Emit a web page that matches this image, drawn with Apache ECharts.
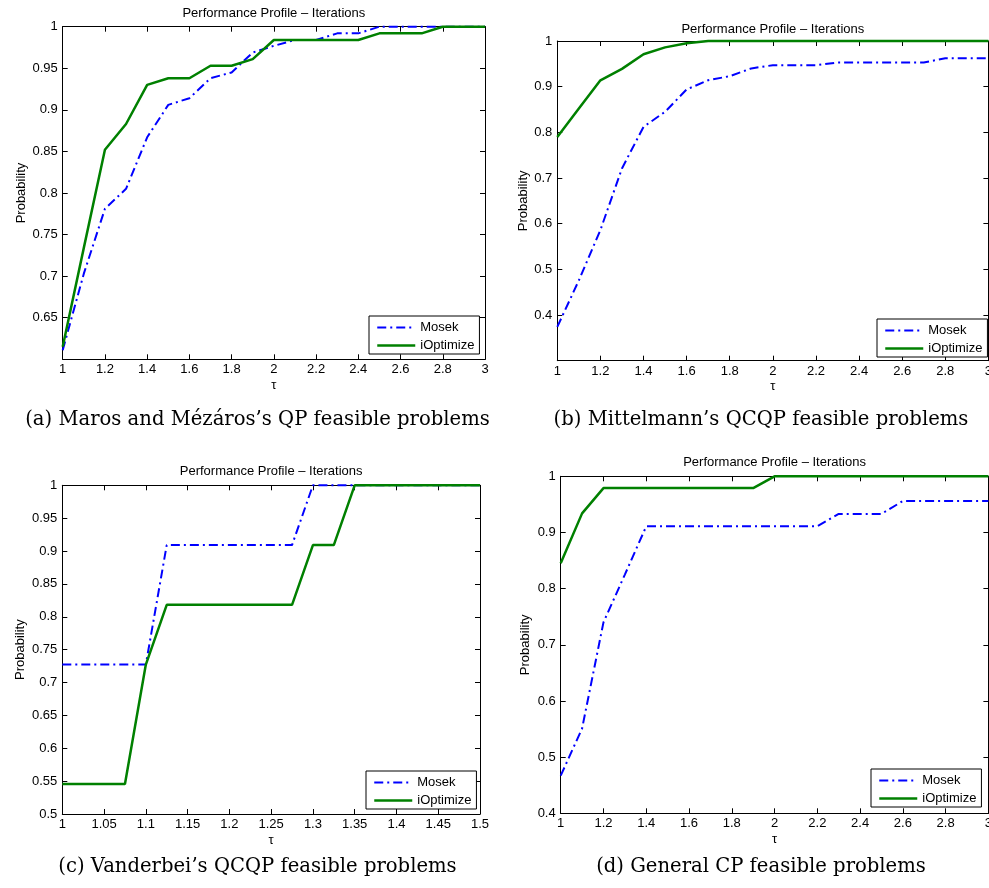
<!DOCTYPE html>
<html>
<head>
<meta charset="utf-8">
<script src="https://cdn.jsdelivr.net/npm/echarts@6/dist/echarts.min.js"></script>
<style>html,body{margin:0;padding:0;background:#fff}#c{width:989px;height:888px}</style>
</head>
<body>
<div id="c"></div>
<script>
// ---------- data ----------
const seriesNames = ['Mosek', 'iOptimize'];
const chartTitle = 'Performance Profile \u2013 Iterations';
const captions = [
  '(a) Maros and M\u00e9z\u00e1ros\u2019s QP feasible problems',
  '(b) Mittelmann\u2019s QCQP feasible problems',
  '(c) Vanderbei\u2019s QCQP feasible problems',
  '(d) General CP feasible problems'
];

// (a)
const tauA = [1, 1.1, 1.2, 1.3, 1.4, 1.5, 1.6, 1.7, 1.8, 1.9, 2, 2.1, 2.2, 2.3, 2.4, 2.5, 2.6, 2.7, 2.8, 2.9, 3];
const mosekA = [0.611, 0.703, 0.781, 0.805, 0.867, 0.906, 0.914, 0.938, 0.945, 0.969, 0.977, 0.984, 0.984, 0.992, 0.992, 1, 1, 1, 1, 1, 1];
const ioptA  = [0.615, 0.734, 0.852, 0.883, 0.930, 0.938, 0.938, 0.953, 0.953, 0.961, 0.984, 0.984, 0.984, 0.984, 0.984, 0.992, 0.992, 0.992, 1, 1, 1];

// (b)
const tauB = [1, 1.1, 1.2, 1.3, 1.4, 1.5, 1.6, 1.7, 1.8, 1.9, 2, 2.1, 2.2, 2.3, 2.4, 2.5, 2.6, 2.7, 2.8, 2.9, 3];
const mosekB = [0.374, 0.476, 0.586, 0.721, 0.812, 0.845, 0.894, 0.914, 0.923, 0.940, 0.947, 0.947, 0.947, 0.953, 0.953, 0.953, 0.953, 0.953, 0.962, 0.962, 0.962];
const ioptB  = [0.790, 0.852, 0.914, 0.939, 0.971, 0.986, 0.995, 1, 1, 1, 1, 1, 1, 1, 1, 1, 1, 1, 1, 1, 1];

// (c)
const tauC = [1, 1.025, 1.05, 1.075, 1.1, 1.125, 1.15, 1.175, 1.2, 1.225, 1.25, 1.275, 1.3, 1.325, 1.35, 1.375, 1.4, 1.425, 1.45, 1.475, 1.5];
const mosekC = [0.7273, 0.7273, 0.7273, 0.7273, 0.7273, 0.9091, 0.9091, 0.9091, 0.9091, 0.9091, 0.9091, 0.9091, 1, 1, 1, 1, 1, 1, 1, 1, 1];
const ioptC  = [0.5455, 0.5455, 0.5455, 0.5455, 0.7273, 0.8182, 0.8182, 0.8182, 0.8182, 0.8182, 0.8182, 0.8182, 0.9091, 0.9091, 1, 1, 1, 1, 1, 1, 1];

// (d)
const tauD = [1, 1.1, 1.2, 1.3, 1.4, 1.5, 1.6, 1.7, 1.8, 1.9, 2, 2.1, 2.2, 2.3, 2.4, 2.5, 2.6, 2.7, 2.8, 2.9, 3];
const mosekD = [0.467, 0.551, 0.740, 0.825, 0.911, 0.911, 0.911, 0.911, 0.911, 0.911, 0.911, 0.911, 0.911, 0.933, 0.933, 0.933, 0.956, 0.956, 0.956, 0.956, 0.956];
const ioptD  = [0.845, 0.934, 0.979, 0.979, 0.979, 0.979, 0.979, 0.979, 0.979, 0.979, 1, 1, 1, 1, 1, 1, 1, 1, 1, 1, 1];

// axis ranges
const xRanges = [[1, 3, 0.2], [1, 3, 0.2], [1, 1.5, 0.05], [1, 3, 0.2]];
const yRanges = [[0.6, 1, 0.05], [0.3, 1, 0.1], [0.5, 1, 0.05], [0.4, 1, 0.1]];
const hideMinY = [true, true, false, false];

// ---------- layout ----------
const grids = [
  {left: 62.7, top: 26.7, width: 422.3, height: 332.6},
  {left: 557.3, top: 41, width: 431.1, height: 319.7},
  {left: 62.3, top: 485.3, width: 417.7, height: 328.7},
  {left: 560.7, top: 476.3, width: 427.7, height: 337}
];
const legendPos = [[369, 316], [877, 319], [366, 771], [871, 769]];
const yNameGap = [35, 26.5, 35, 29];
const xNameGap = [20, 19.5, 19.5, 20];
const titleY = [13.5, 29, 471.5, 462.5];
const captionPos = [[257.5, 420], [761, 420], [257.5, 867], [761, 867]];

const panels = [
  {tau: tauA, m: mosekA, o: ioptA},
  {tau: tauB, m: mosekB, o: ioptB},
  {tau: tauC, m: mosekC, o: ioptC},
  {tau: tauD, m: mosekD, o: ioptD}
];

const FONT = 'Liberation Sans, Arial, sans-serif';
const blue = '#0000ff', green = '#008000';
const noSymbol = {color: 'rgba(0,0,0,0)', borderWidth: 0, opacity: 0};

const option = {
  animation: false,
  backgroundColor: '#fff',
  grid: [], xAxis: [], yAxis: [], series: [], legend: [], graphic: []
};

panels.forEach((p, i) => {
  const g = grids[i];
  option.grid.push(Object.assign({containLabel: false, outerBoundsMode: 'none'}, g));
  const [xmin, xmax, xint] = xRanges[i];
  const [ymin, ymax, yint] = yRanges[i];
  const lineS = {show: true, lineStyle: {color: '#000', width: 1}};
  const tickS = {show: true, inside: true, length: 5, lineStyle: {color: '#000', width: 1}};
  option.xAxis.push({
    type: 'value', gridIndex: i, min: xmin, max: xmax, interval: xint, position: 'bottom',
    axisLine: Object.assign({onZero: false}, lineS), axisTick: tickS, splitLine: {show: false},
    axisLabel: {color: '#000', fontFamily: FONT, fontSize: 13, margin: 4},
    name: '\u03c4', nameLocation: 'middle', nameGap: xNameGap[i],
    nameTextStyle: {color: '#000', fontFamily: FONT, fontSize: 13}
  });
  option.xAxis.push({
    type: 'value', gridIndex: i, min: xmin, max: xmax, interval: xint, position: 'top',
    axisLine: Object.assign({onZero: false}, lineS), axisTick: tickS, splitLine: {show: false},
    axisLabel: {show: false}
  });
  option.yAxis.push({
    type: 'value', gridIndex: i, min: ymin, max: ymax, interval: yint, position: 'left',
    axisLine: Object.assign({onZero: false}, lineS), axisTick: tickS, splitLine: {show: false},
    axisLabel: {color: '#000', fontFamily: FONT, fontSize: 13, margin: 5, showMinLabel: !hideMinY[i]},
    name: 'Probability', nameLocation: 'middle', nameGap: yNameGap[i], nameRotate: 90,
    nameTextStyle: {color: '#000', fontFamily: FONT, fontSize: 13}
  });
  option.yAxis.push({
    type: 'value', gridIndex: i, min: ymin, max: ymax, interval: yint, position: 'right',
    axisLine: Object.assign({onZero: false}, lineS), axisTick: tickS, splitLine: {show: false},
    axisLabel: {show: false}
  });
  option.series.push({
    name: seriesNames[0], type: 'line', xAxisIndex: 2 * i, yAxisIndex: 2 * i,
    data: p.tau.map((t, k) => [t, p.m[k]]), symbol: 'none', clip: false,
    lineStyle: {color: blue, width: 2, type: [9, 4, 2, 4]}, itemStyle: {color: blue}, z: 3
  });
  option.series.push({
    name: seriesNames[1], type: 'line', xAxisIndex: 2 * i, yAxisIndex: 2 * i,
    data: p.tau.map((t, k) => [t, p.o[k]]), symbol: 'none', clip: false,
    lineStyle: {color: green, width: 2.5, type: 'solid'}, itemStyle: {color: green}, z: 4
  });
  option.legend.push({
    left: legendPos[i][0], top: legendPos[i][1], orient: 'vertical',
    itemWidth: 38, itemHeight: 13, itemGap: 5, padding: [5, 5, 2, 7],
    borderColor: '#000', borderWidth: 1, backgroundColor: '#fff',
    selectedMode: false,
    textStyle: {color: '#000', fontFamily: FONT, fontSize: 13},
    data: [
      {name: seriesNames[0], lineStyle: {width: 2}, itemStyle: noSymbol},
      {name: seriesNames[1], lineStyle: {width: 2.5}, itemStyle: noSymbol}
    ]
  });
  option.graphic.push({
    type: 'text', x: g.left + g.width / 2, y: titleY[i], silent: true,
    style: {text: chartTitle, fill: '#000', font: '13px ' + FONT, textAlign: 'center', textVerticalAlign: 'middle'}
  });
  option.graphic.push({
    type: 'text', x: captionPos[i][0], y: captionPos[i][1], silent: true,
    style: {text: captions[i], fill: '#000', font: '19.6px DejaVu Serif, serif', textAlign: 'center', textVerticalAlign: 'middle'}
  });
});

const chart = echarts.init(document.getElementById('c'), null, {renderer: 'canvas'});
chart.setOption(option);
</script>
</body>
</html>
